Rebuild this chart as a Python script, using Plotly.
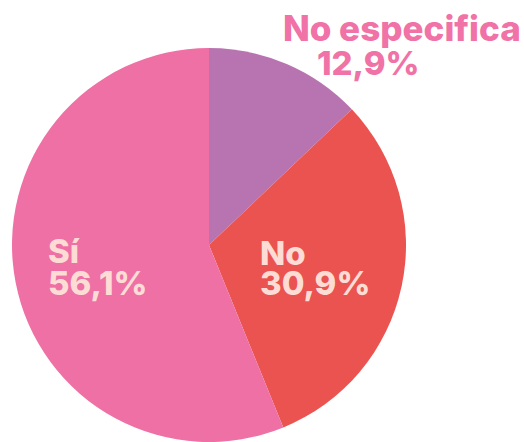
import plotly.graph_objects as go

categories = ["No especifica", "No", "Sí"]
values = [12.9, 30.9, 56.1]
value_labels = ["12,9%", "30,9%", "56,1%"]
colors = ["#b874b0", "#ea5350", "#ef70a5"]

W, H = 524, 442

fig = go.Figure(go.Pie(
    labels=categories,
    values=values,
    sort=False,
    direction="clockwise",
    rotation=0,
    marker=dict(colors=colors, line=dict(width=0)),
    textinfo="none",
    hoverinfo="label+percent",
    domain=dict(x=[10/W, 408/W], y=[0, 394/H]),
    showlegend=False,
))

font_family = "Inter, 'Open Sans', sans-serif"
inner = "#fcdcd5"
outer = "#f072a6"


def label(text, x, y, color, size=33):
    fig.add_annotation(x=x/W, y=1-y/H, xref="paper", yref="paper",
                       xanchor="left", yanchor="middle", showarrow=False,
                       text=text,
                       font=dict(family=font_family, size=size, color=color, weight=800))


label(categories[2], 46, 251, inner)
label(value_labels[2], 46, 283, inner)
label(categories[1], 258, 253, inner)
label(value_labels[1], 258, 283, inner)
label(categories[0], 281, 28, outer, size=35)
label(value_labels[0], 315, 63, outer)

fig.update_layout(width=W, height=H, margin=dict(l=0, r=0, t=0, b=0),
                  paper_bgcolor="white", plot_bgcolor="white")

fig.write_html("out.html", config={"displayModeBar": False},
               post_script="document.body.style.margin='0';")
